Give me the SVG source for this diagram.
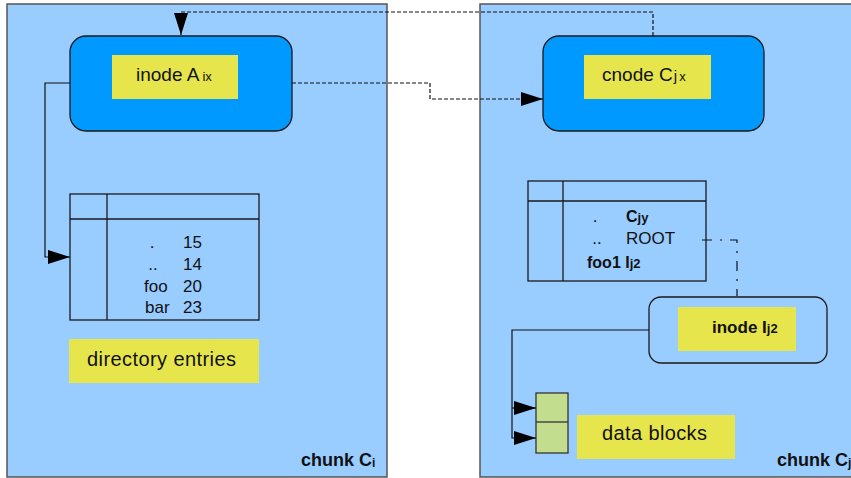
<svg xmlns="http://www.w3.org/2000/svg" width="851" height="478" viewBox="0 0 851 478">
<defs>
<style>
.chunk{fill:#99ccff;stroke:#555;stroke-width:1.5}
.node{fill:#0099ff;stroke:#1a1a1a;stroke-width:1.3}
.lbl{fill:#e6e64c;stroke:none}
.t{font-family:"Liberation Sans",Arial,sans-serif;fill:#111}
.b{font-weight:bold}
.tbl{fill:none;stroke:#1a1a1a;stroke-width:1.3}
.c{fill:none;stroke:#111;stroke-width:1.2}
.d{fill:none;stroke:#111;stroke-width:1.2;stroke-dasharray:4,2}
.dd{fill:none;stroke:#111;stroke-width:1.2;stroke-dasharray:10,8,2,8}
</style>
<marker id="ah" viewBox="0 0 22 14" refX="22" refY="7" markerWidth="22" markerHeight="14" markerUnits="userSpaceOnUse" orient="auto">
<path d="M0,0 L22,7 L0,14 Z" fill="#000"/>
</marker>
</defs>
<rect width="851" height="478" fill="#fff"/>
<g id="chunkCi">
<rect class="chunk" x="7" y="4" width="380" height="473"/>
<text class="t b" x="301" y="466" font-size="18">chunk C<tspan font-size="12" dy="1">i</tspan></text>
</g>
<g id="chunkCj">
<rect class="chunk" x="480" y="4" width="380" height="473"/>
<text class="t b" x="777" y="466" font-size="18">chunk C<tspan font-size="12" dy="1">j</tspan></text>
</g>
<g id="inodeA">
<rect class="node" x="70" y="36" width="222" height="95" rx="16"/>
<rect class="lbl" x="112" y="55" width="126" height="44"/>
<text class="t" x="136" y="81" font-size="19">inode A<tspan font-size="13" dx="3">ix</tspan></text>
</g>
<g id="cnodeC">
<rect class="node" x="543" y="36" width="221" height="95" rx="16"/>
<rect class="lbl" x="584" y="55" width="127" height="44"/>
<text class="t" x="602" y="81" font-size="19">cnode C<tspan font-size="15" dx="1">j</tspan><tspan font-size="13" dx="2">x</tspan></text>
</g>
<g id="dirTable">
<rect class="tbl" x="70" y="194" width="189" height="126"/>
<line class="tbl" x1="70" y1="219" x2="259" y2="219"/>
<line class="tbl" x1="107" y1="194" x2="107" y2="320"/>
<g class="t" font-size="17">
<text x="152" y="248" text-anchor="middle">.</text><text x="183" y="248">15</text>
<text x="153" y="270" text-anchor="middle">..</text><text x="183" y="270">14</text>
<text x="144" y="292">foo</text><text x="183" y="292">20</text>
<text x="145" y="313">bar</text><text x="183" y="313">23</text>
</g>
</g>
<g id="dirEntries">
<rect class="lbl" x="69" y="339" width="190" height="44"/>
<text class="t" x="87" y="366" font-size="20" textLength="149">directory entries</text>
</g>
<g id="cTable">
<rect class="tbl" x="528" y="181" width="178" height="100"/>
<line class="tbl" x1="528" y1="201" x2="706" y2="201"/>
<line class="tbl" x1="563" y1="181" x2="563" y2="281"/>
<g class="t" font-size="17">
<text x="595" y="222" text-anchor="middle">.</text>
<text class="b" x="626" y="222" font-size="16">C<tspan font-size="13">jy</tspan></text>
<text x="597" y="244" text-anchor="middle">..</text>
<text x="626" y="244">ROOT</text>
<text class="b" x="587" y="268" font-size="16">foo1  I<tspan font-size="13">j2</tspan></text>
</g>
</g>
<g id="inodeI">
<rect fill="none" stroke="#1a1a1a" stroke-width="1.3" x="649" y="297" width="178" height="66" rx="12"/>
<rect class="lbl" x="678" y="307" width="118" height="44"/>
<text class="t b" x="712" y="333" font-size="17">inode I<tspan font-size="13">j2</tspan></text>
</g>
<g id="dataBlocks">
<rect x="536" y="393" width="32" height="60" fill="#c2dd8e" stroke="#333" stroke-width="1.3"/>
<line x1="536" y1="422" x2="568" y2="422" stroke="#333" stroke-width="1.3"/>
<rect class="lbl" x="577" y="415" width="158" height="44"/>
<text class="t" x="602" y="440" font-size="20" textLength="105">data blocks</text>
</g>
<g id="connectors">
<path class="d" d="M653,36 V12 H181 V35" marker-end="url(#ah)"/>
<path class="d" d="M292,83 H430 V99 H543" marker-end="url(#ah)"/>
<path class="c" d="M70,83 H45 V257 H70" marker-end="url(#ah)"/>
<path class="dd" d="M702,240 H737 V296"/>
<path class="c" d="M649,330 H512 V438 H536" marker-end="url(#ah)"/>
<path class="c" d="M512,408 H536" marker-end="url(#ah)"/>
</g>
</svg>
